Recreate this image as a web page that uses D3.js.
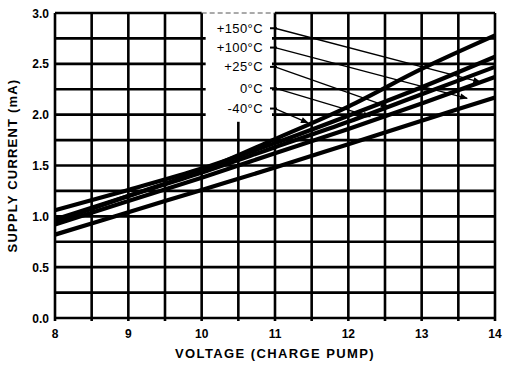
<!DOCTYPE html>
<html>
<head>
<meta charset="utf-8">
<script src="https://cdn.jsdelivr.net/npm/d3@7"></script>
<style>
  html, body { margin: 0; padding: 0; background: #fff; }
  svg { display: block; }
  text { font-family: "Liberation Sans", Arial, Helvetica, sans-serif; fill: #000; }
</style>
</head>
<body>
<svg id="chart" width="514" height="366"></svg>
<script>
// Supply current vs. charge-pump voltage at five temperatures
const voltages = [8, 9, 10, 11, 12, 13, 14];
const temps = ["+150°C", "+100°C", "+25°C", "0°C", "-40°C"];
const current150 = [0.95, 1.20, 1.45, 1.76, 2.08, 2.45, 2.78];
const current100 = [1.06, 1.26, 1.47, 1.72, 1.99, 2.27, 2.57];
const current25  = [0.97, 1.20, 1.43, 1.68, 1.93, 2.20, 2.47];
const current0   = [0.92, 1.15, 1.38, 1.62, 1.86, 2.11, 2.37];
const currentM40 = [0.82, 1.04, 1.26, 1.48, 1.71, 1.94, 2.17];
const seriesValues = [current150, current100, current25, current0, currentM40];

// Legend callouts: label level and where each leader line ends (V, mA)
const labelLevels = [2.85, 2.66, 2.47, 2.26, 2.06];
const leaderEndV  = [13.80, 13.62, 12.54, 12.30, 11.45];
const leaderEndI  = [2.32, 2.16, 2.08, 1.98, 1.92];

const xTicks = [8, 9, 10, 11, 12, 13, 14];
const yTicks = [0.0, 0.5, 1.0, 1.5, 2.0, 2.5, 3.0];
const xGrid = d3.range(8, 14.001, 0.5);
const yGrid = d3.range(0, 3.001, 0.25);

const svg = d3.select("#chart");
const x = d3.scaleLinear().domain([8, 14]).range([55, 495]);
const y = d3.scaleLinear().domain([0, 3]).range([318, 13]);

// Callout box: grid is left open between 10 V and 11 V above ~1.93 mA
const boxV = [10, 11], boxTop = 1.93;

const grid = svg.append("g").attr("stroke", "#000").attr("stroke-width", 2.6);

// horizontal grid lines
yGrid.forEach(v => {
  const inBox = v >= boxTop && v < 3;
  if (inBox) {
    grid.append("line").attr("x1", x(8)).attr("x2", x(boxV[0]) + 4).attr("y1", y(v)).attr("y2", y(v));
    grid.append("line").attr("x1", x(boxV[1]) - 3).attr("x2", x(14)).attr("y1", y(v)).attr("y2", y(v));
  } else if (v === 3) {
    grid.append("line").attr("x1", x(8)).attr("x2", x(boxV[0])).attr("y1", y(v)).attr("y2", y(v));
    grid.append("line").attr("x1", x(boxV[1])).attr("x2", x(14)).attr("y1", y(v)).attr("y2", y(v));
    svg.append("line").attr("x1", x(boxV[0])).attr("x2", x(boxV[1])).attr("y1", y(v)).attr("y2", y(v))
      .attr("stroke", "#555").attr("stroke-width", 1).attr("stroke-dasharray", "5,3");
  } else {
    grid.append("line").attr("x1", x(8)).attr("x2", x(14)).attr("y1", y(v)).attr("y2", y(v));
  }
});

// vertical grid lines
xGrid.forEach(v => {
  const top = (v > boxV[0] && v < boxV[1]) ? boxTop : 3;
  grid.append("line").attr("x1", x(v)).attr("x2", x(v)).attr("y1", y(0) + 3).attr("y2", y(top));
});

// axis tick labels
svg.append("g").selectAll("text").data(yTicks).join("text")
  .attr("x", 49).attr("y", d => y(d) + 4.5)
  .attr("text-anchor", "end").attr("font-size", 12).attr("font-weight", "bold")
  .text(d => d.toFixed(1));

svg.append("g").selectAll("text").data(xTicks).join("text")
  .attr("x", d => x(d)).attr("y", 338)
  .attr("text-anchor", "middle").attr("font-size", 12).attr("font-weight", "bold")
  .text(d => d);

// axis titles
svg.append("text").attr("x", x(11)).attr("y", 358).attr("text-anchor", "middle")
  .attr("font-size", 13).attr("font-weight", "bold").attr("letter-spacing", 1.4)
  .text("VOLTAGE (CHARGE PUMP)");
svg.append("text").attr("transform", `translate(17, ${y(1.5)}) rotate(-90)`)
  .attr("text-anchor", "middle").attr("font-size", 13).attr("font-weight", "bold")
  .attr("letter-spacing", 1.2)
  .text("SUPPLY CURRENT (mA)");

// curves
const line = d3.line().x((d, i) => x(voltages[i])).y(d => y(d)).curve(d3.curveMonotoneX);
svg.append("g").selectAll("path").data(seriesValues).join("path")
  .attr("d", line).attr("fill", "none").attr("stroke", "#000")
  .attr("stroke-width", 4.2).attr("stroke-linecap", "butt");

// callout labels, stubs and leader lines with arrowheads
svg.append("defs").append("marker")
  .attr("id", "arrow").attr("viewBox", "0 0 10 10").attr("refX", 9).attr("refY", 5)
  .attr("markerWidth", 9).attr("markerHeight", 6).attr("orient", "auto")
  .append("path").attr("d", "M0,1 L10,5 L0,9 Z").attr("fill", "#000");

const callouts = svg.append("g");
temps.forEach((t, i) => {
  const ly = y(labelLevels[i]);
  callouts.append("text").attr("x", x(11) - 12).attr("y", ly + 4.5)
    .attr("text-anchor", "end").attr("font-size", 13).attr("letter-spacing", 0.4).text(t);
  callouts.append("line").attr("x1", x(11) - 5).attr("x2", x(11) + 2).attr("y1", ly).attr("y2", ly)
    .attr("stroke", "#000").attr("stroke-width", 2);
  callouts.append("line")
    .attr("x1", x(11)).attr("y1", ly)
    .attr("x2", x(leaderEndV[i])).attr("y2", y(leaderEndI[i]))
    .attr("stroke", "#000").attr("stroke-width", 1.3)
    .attr("marker-end", "url(#arrow)");
});
</script>
</body>
</html>
